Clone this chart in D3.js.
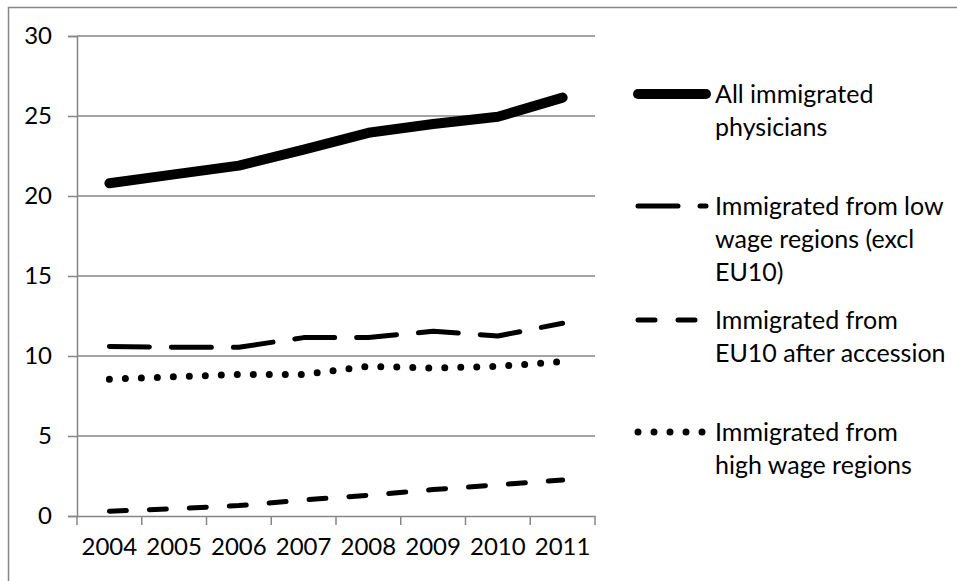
<!DOCTYPE html>
<html>
<head>
<meta charset="utf-8">
<script src="https://cdn.jsdelivr.net/npm/d3@7"></script>
<style>
  html, body { margin: 0; padding: 0; background: #fff; }
  svg { display: block; }
  text { font-family: Lato, "Open Sans", sans-serif; fill: #000; }
</style>
</head>
<body>
<svg id="chart" width="957" height="581"></svg>
<script>
// Share of physicians who immigrated, by origin, 2004–2011
const years = ["2004", "2005", "2006", "2007", "2008", "2009", "2010", "2011"];
const allImmigrated = [20.8, 21.35, 21.9, 22.9, 23.95, 24.5, 24.95, 26.15];
const lowWage       = [10.6, 10.55, 10.55, 11.15, 11.15, 11.55, 11.25, 12.05];
const eu10          = [0.3, 0.45, 0.65, 1.0, 1.3, 1.65, 1.95, 2.25];
const highWage      = [8.55, 8.7, 8.85, 8.85, 9.35, 9.25, 9.35, 9.65];
const yTicks = [0, 5, 10, 15, 20, 25, 30];

const seriesNames = [
  ["All immigrated", "physicians"],
  ["Immigrated from low", "wage regions (excl", "EU10)"],
  ["Immigrated from", "EU10 after accession"],
  ["Immigrated from", "high wage regions"]
];

const styles = [
  { width: 10, dash: null,    cap: "round" },
  { width: 5,  dash: "40,22", cap: "round" },
  { width: 5,  dash: "17,23", cap: "round" },
  { width: 7,  dash: "0,16",  cap: "round" }
];
const seriesValues = [allImmigrated, lowWage, eu10, highWage];

const svg = d3.select("#chart");
const gridColor = "#868686";
const axisFont = 24;
const legendFont = 25;

// outer chart frame
svg.append("rect")
  .attr("x", 8.5).attr("y", 7.5)
  .attr("width", 1000).attr("height", 1000)
  .attr("fill", "none")
  .attr("stroke", gridColor)
  .attr("stroke-width", 1.5);

const plot = { left: 77, right: 595, top: 36, bottom: 516 };

const x = d3.scaleBand().domain(years).range([plot.left, plot.right]);
const y = d3.scaleLinear().domain([0, 30]).range([plot.bottom, plot.top]);

// horizontal gridlines
svg.append("g")
  .selectAll("line")
  .data(yTicks.filter(d => d > 0))
  .join("line")
  .attr("x1", plot.left).attr("x2", plot.right)
  .attr("y1", d => y(d)).attr("y2", d => y(d))
  .attr("stroke", gridColor)
  .attr("stroke-width", 1.5);

// y axis
const yAxis = svg.append("g")
  .attr("transform", `translate(${plot.left},0)`)
  .call(d3.axisLeft(y).tickValues(yTicks).tickSize(9).tickPadding(16).tickFormat(d3.format("d")));
yAxis.select(".domain").attr("stroke", gridColor).attr("stroke-width", 1.5);
yAxis.selectAll(".tick line").attr("stroke", gridColor).attr("stroke-width", 1.5);
yAxis.selectAll(".tick text").style("font-size", axisFont + "px").attr("fill", "#000");

// x axis with tick marks on band boundaries
const xAxis = svg.append("g")
  .attr("transform", `translate(0,${plot.bottom})`)
  .call(d3.axisBottom(x).tickSize(0).tickPadding(22));
xAxis.select(".domain").attr("stroke", gridColor).attr("stroke-width", 1.5);
xAxis.selectAll(".tick text").style("font-size", axisFont + "px").attr("fill", "#000");
xAxis.append("g")
  .selectAll("line")
  .data(years.map(d => x(d)).concat([x(years[years.length - 1]) + x.bandwidth()]))
  .join("line")
  .attr("x1", d => d).attr("x2", d => d)
  .attr("y1", 0).attr("y2", 9)
  .attr("stroke", gridColor)
  .attr("stroke-width", 1.5);

// series lines
const line = d3.line()
  .x((d, i) => x(years[i]) + x.bandwidth() / 2)
  .y(d => y(d));

seriesValues.forEach((vals, k) => {
  const s = styles[k];
  svg.append("path")
    .datum(vals)
    .attr("d", line)
    .attr("fill", "none")
    .attr("stroke", "#000")
    .attr("stroke-width", s.width)
    .attr("stroke-linecap", s.cap)
    .attr("stroke-linejoin", "round")
    .attr("stroke-dasharray", s.dash);
});

// legend
const legendRows = [94, 206, 320, 432];
const legend = svg.append("g");
seriesNames.forEach((lines, k) => {
  const s = styles[k];
  const cy = legendRows[k];
  legend.append("line")
    .attr("x1", 638).attr("x2", 706)
    .attr("y1", cy).attr("y2", cy)
    .attr("stroke", "#000")
    .attr("stroke-width", s.width)
    .attr("stroke-linecap", s.cap)
    .attr("stroke-dasharray", s.dash);
  const t = legend.append("text")
    .attr("x", 715)
    .attr("y", cy + 9)
    .style("font-size", legendFont + "px");
  lines.forEach((ln, i) => {
    t.append("tspan")
      .attr("x", 715)
      .attr("dy", i === 0 ? 0 : 33)
      .text(ln);
  });
});
</script>
</body>
</html>
